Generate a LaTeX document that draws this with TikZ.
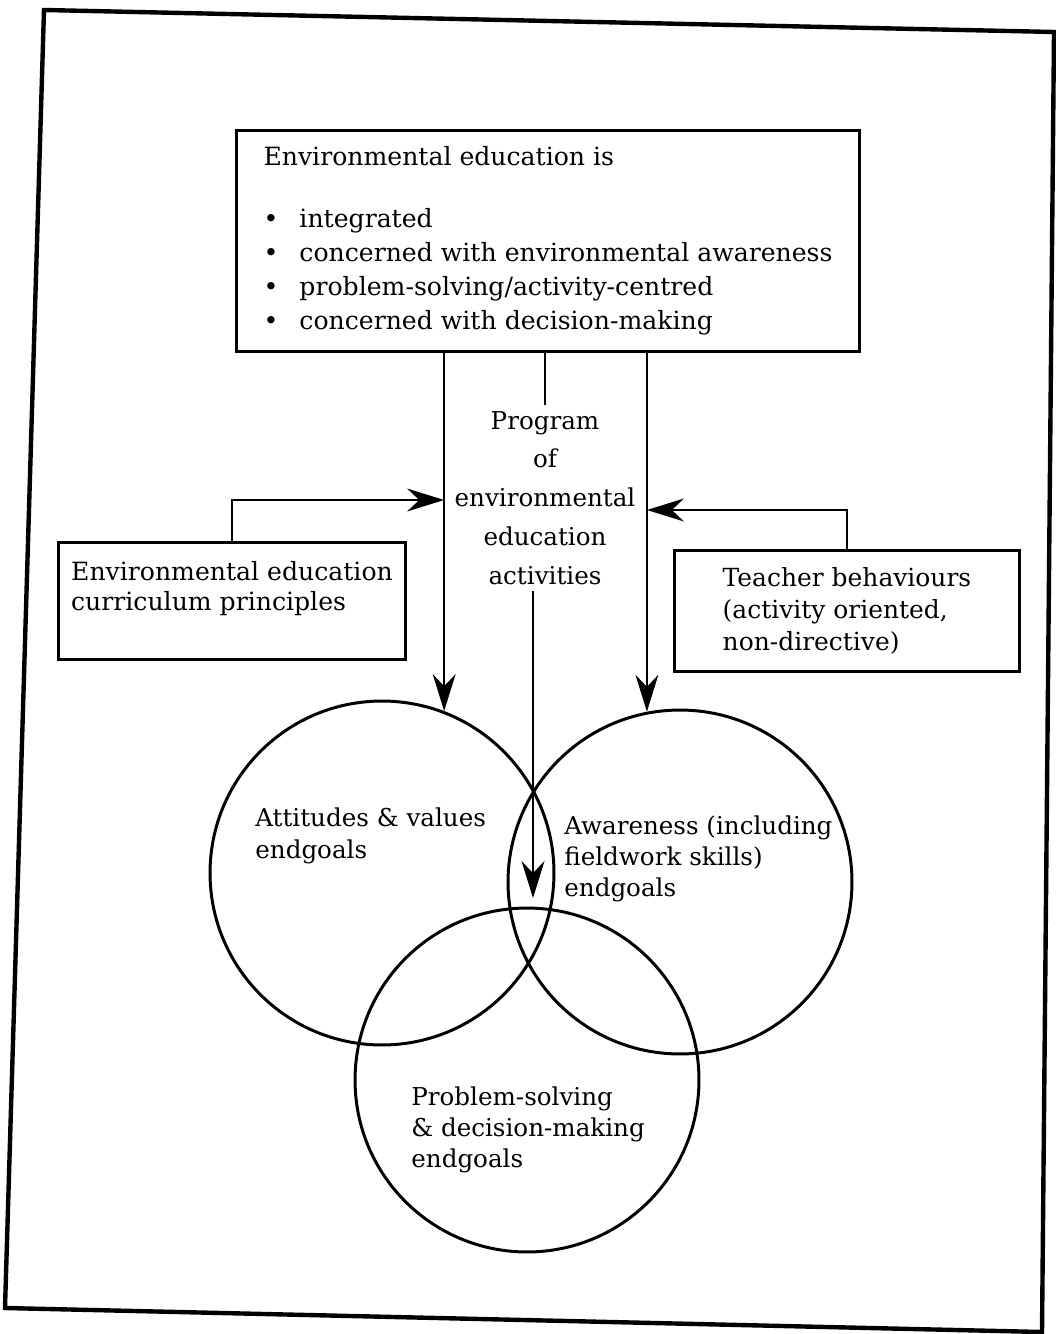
\documentclass[tikz,border=0pt]{standalone}
\usepackage{fontspec}
\setmainfont{DejaVu Serif}
\usetikzlibrary{arrows.meta}
\newcommand{\eebullet}{\makebox[0.72cm][l]{\textbullet}}

\begin{document}
\begin{tikzpicture}[x=0.02cm, y=-0.02cm]
  \useasboundingbox (0,0) rectangle (1055,1334);
  \tikzstyle{box}=[draw, line width=1.7pt, align=left, inner sep=0pt]
  \tikzstyle{goal}=[circle, draw, line width=1.7pt, minimum size=6.88cm, inner sep=0pt]
  \tikzstyle{goaltext}=[align=left, anchor=west, inner sep=0pt, font=\fontsize{14}{17.8}\selectfont]
  \tikzstyle{flow}=[line width=1.4pt, -{Stealth[length=21pt, width=13pt]}]

  % Rahmen
  \draw[line width=2.5pt] (44,10) -- (1054,32) -- (1042,1332) -- (5,1308) -- cycle;

  \node[box, minimum width=12.48cm, minimum height=4.44cm, font=\fontsize{14.3}{19.3}\selectfont] (isbox) at (548,241)
    {Environmental education is\\[16pt]
     \eebullet integrated\\
     \eebullet concerned with environmental awareness\\
     \eebullet problem-solving/activity-centred\\
     \eebullet concerned with decision-making};

  \node[align=center, font=\fontsize{14}{22.1}\selectfont] (prog) at (545,498)
    {Program\\ of\\ environmental\\ education\\ activities};

  \node[box, minimum width=6.96cm, minimum height=2.34cm, font=\fontsize{14.3}{17}\selectfont] (cbox) at (232,601)
    {Environmental education\\ curriculum principles\\ \mbox{}};
  \node[box, minimum width=6.9cm, minimum height=2.44cm, font=\fontsize{14.2}{18.4}\selectfont] (tbox) at (847,611)
    {Teacher behaviours\\ (activity oriented,\\ non-directive)};

  \node[goal] (attit) at (382,873) {};
  \node[goal] (aware) at (680,882) {};
  \node[goal] (solve) at (527,1080) {};

  \node[goaltext] (attlabel) at (255,836) {Attitudes \& values\\ endgoals};
  \node[goaltext] (awlabel) at (564,859) {Awareness (including\\ fieldwork skills)\\ endgoals};
  \node[goaltext] (pslabel) at (411,1130) {Problem-solving\\ \& decision-making\\ endgoals};

  \coordinate (lens) at (533,898);

  \draw[flow] (isbox.south -| attit.69) -- (attit.69);
  \draw[flow] (isbox.south -| aware.101) -- (aware.101);
  \draw[line width=1.4pt] (isbox.south -| prog.north) -- (prog.north);
  \draw[flow] (prog.south -| lens) -- (lens);
  \draw[flow] (cbox.north) |- (attit.69 |- 0,500);
  \draw[flow] (tbox.north) |- (aware.101 |- 0,510);
\end{tikzpicture}
\end{document}
